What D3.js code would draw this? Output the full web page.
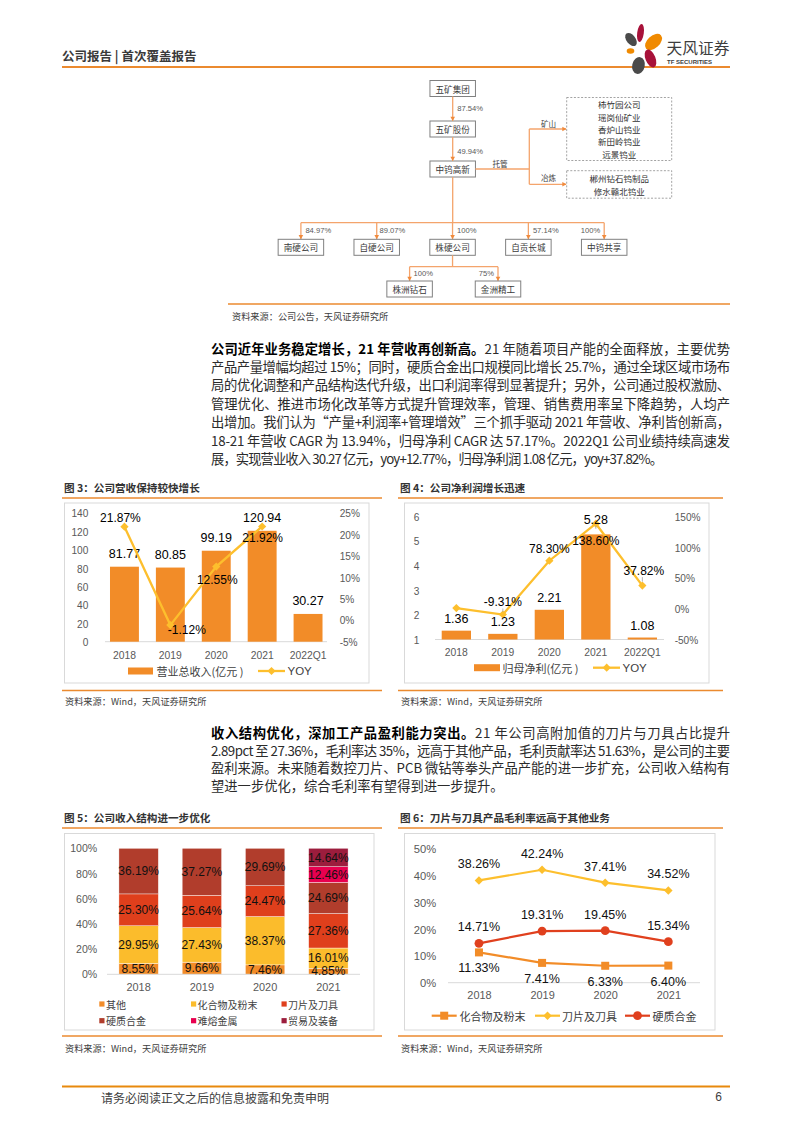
<!DOCTYPE html>
<html><head><meta charset="utf-8">
<script src="https://cdn.jsdelivr.net/npm/d3@7"></script>
<style>
body{margin:0;background:#fff;}
svg{display:block;}
</style></head><body>
<svg id="page" width="793" height="1122" viewBox="0 0 793 1122"></svg>
<script>
// ---------------- DATA ----------------
const revCategories = ["2018","2019","2020","2021","2022Q1"];
const revValues = [81.77, 80.85, 99.19, 120.94, 30.27];
const revYoy = [21.87, -1.12, 12.55, 21.92, null];
const revLeftTicks = [0,20,40,60,80,100,120,140];
const revRightTicks = [-5,0,5,10,15,20,25];

const profitCategories = ["2018","2019","2020","2021","2022Q1"];
const profitValues = [1.36, 1.23, 2.21, 5.28, 1.08];
const profitYoy = [1.2, -9.31, 78.30, 138.60, 37.82];
const profitYoyShown = [false, true, true, true, true];
const profitLeftTicks = [1,2,3,4,5,6];
const profitRightTicks = [-50,0,50,100,150];

const mixCategories = ["2018","2019","2020","2021"];
const mixOther = [8.55, 9.66, 7.46, 4.85];
const mixPowder = [29.95, 27.43, 38.37, 16.01];
const mixBlade = [25.30, 25.64, 24.47, 27.36];
const mixCarbide = [36.19, 37.27, 29.69, 24.69];
const mixRefractory = [0, 0, 0, 12.46];
const mixTrade = [0, 0, 0, 14.64];
const mixNames = ["其他","化合物及粉末","刀片及刀具","硬质合金","难熔金属","贸易及装备"];
const mixTicks = [0,20,40,60,80,100];

const marginCategories = ["2018","2019","2020","2021"];
const marginPowder = [11.33, 7.41, 6.33, 6.40];
const marginBlade = [38.26, 42.24, 37.41, 34.52];
const marginCarbide = [14.71, 19.31, 19.45, 15.34];
const marginNames = ["化合物及粉末","刀片及刀具","硬质合金"];
const marginTicks = [0,10,20,30,40,50];

const orgChain = ["五矿集团","五矿股份","中钨高新"];
const orgChainPct = ["87.54%","49.94%"];
const mineUnits = ["柿竹园公司","瑶岗仙矿业","香炉山钨业","新田岭钨业","远景钨业"];
const smeltUnits = ["郴州钻石钨制品","修水赣北钨业"];
const subs = ["南硬公司","自硬公司","株硬公司","自贡长城","中钨共享"];
const subsPct = ["84.97%","89.07%","100%","57.14%","100%"];
const subSubs = ["株洲钻石","金洲精工"];
const subSubsPct = ["100%","75%"];

// ---------------- STYLE ----------------
const CJK = '"Noto Sans CJK SC", "Liberation Sans", sans-serif';
const NUM = '"Liberation Sans", "Noto Sans CJK SC", sans-serif';
const OL = "#EB8A2F";
const BAR = "#F28C28";
const YEL = "#FDBF2D";
const RED = "#E0401E";
const AX = "#595959";
const mixColors = ["#F28C28","#FBBC2C","#DF3F1C","#B13D2C","#E8004F","#9C1D3D"];

const svg = d3.select("#page");
svg.append("rect").attr("width",793).attr("height",1122).attr("fill","#fff");

function txt(g, x, y, s, o={}) {
  const t = g.append("text").attr("x",x).attr("y",y)
    .attr("dominant-baseline","central")
    .attr("font-family", o.ff || CJK)
    .attr("font-size", o.fs || 10)
    .attr("fill", o.fill || "#333")
    .attr("text-anchor", o.anchor || "start")
    .text(s);
  if (o.bold) t.attr("font-weight","bold");
  if (o.tl) t.attr("textLength", o.tl).attr("lengthAdjust","spacingAndGlyphs");
  return t;
}
function hline(g, x1, x2, y, c, w) {
  g.append("line").attr("x1",x1).attr("x2",x2).attr("y1",y).attr("y2",y).attr("stroke",c).attr("stroke-width",w);
}

// ---------------- HEADER ----------------
txt(svg, 62, 55, "公司报告 | 首次覆盖报告", {fs:12.5, bold:true, fill:"#3a3a3a"});
hline(svg, 62, 730, 67, OL, 2.2);
const logo = svg.append("g");
const petals = [
  {cx:640.5, cy:33, rx:3.3, ry:9, rot:8, c:"#A8123A"},
  {cx:653.5, cy:42, rx:10, ry:6.2, rot:-42, c:"#F08A00"},
  {cx:631, cy:39.5, rx:4.5, ry:7.5, rot:-38, c:"#4A4A4A"},
  {cx:630.5, cy:51, rx:3.8, ry:2.8, rot:0, c:"#F08A00"},
  {cx:650.5, cy:58.5, rx:5, ry:9.5, rot:-22, c:"#A8123A"},
  {cx:638.5, cy:65.5, rx:6.3, ry:8.5, rot:12, c:"#4A4A4A"}
];
petals.forEach(p => logo.append("ellipse").attr("cx",0).attr("cy",0).attr("rx",p.rx).attr("ry",p.ry)
  .attr("fill",p.c).attr("transform",`translate(${p.cx},${p.cy}) rotate(${p.rot})`));
txt(logo, 666.5, 47, "天风证券", {fs:15.5, fill:"#3d3d3d", tl:63});
txt(logo, 667, 61.5, "TF SECURITIES", {fs:5.8, ff:NUM, bold:true, fill:"#3d3d3d", tl:45});

// ---------------- ORG CHART ----------------
const og = svg.append("g");
const LC = "#F4A46C";
const BW = 45.5, BH = 16, CX = 452.7;
function box(cx, y, label) {
  og.append("rect").attr("x",cx-BW/2).attr("y",y).attr("width",BW).attr("height",BH)
    .attr("fill","#fff").attr("stroke","#808080").attr("stroke-width",1);
  txt(og, cx, y+BH/2, label, {fs:8.6, fill:"#3a3a3a", anchor:"middle"});
}
function vline(x, y1, y2) { og.append("line").attr("x1",x).attr("x2",x).attr("y1",y1).attr("y2",y2).attr("stroke",LC).attr("stroke-width",1.3); }
function hl(x1, x2, y) { og.append("line").attr("x1",x1).attr("x2",x2).attr("y1",y).attr("y2",y).attr("stroke",LC).attr("stroke-width",1.3); }
function arrowDown(x, y) { og.append("path").attr("d",`M${x-2.3},${y-4.2}L${x+2.3},${y-4.2}L${x},${y}Z`).attr("fill","#F08A3C"); }
function arrowRight(x, y) { og.append("path").attr("d",`M${x-4.2},${y-2.3}L${x-4.2},${y+2.3}L${x},${y}Z`).attr("fill","#F08A3C"); }
function pct(x, y, s, anchor) { txt(og, x, y, s, {fs:7.6, ff:NUM, fill:"#595959", anchor:anchor||"start"}); }

const chainY = [80.5, 121, 161];
orgChain.forEach((n,i) => box(CX, chainY[i], n));
[0,1].forEach(i => {
  vline(CX, chainY[i]+BH, chainY[i+1]);
  arrowDown(CX, chainY[i+1]);
  pct(CX+4.5, (chainY[i]+BH+chainY[i+1])/2 + (i===0?0:2), orgChainPct[i]);
});
hl(CX+BW/2, 529.3, 169);
txt(og, 492.5, 163.3, "托管", {fs:7.6, fill:"#404040"});
vline(529.3, 129, 184.3);
hl(529.3, 566, 129); arrowRight(566.5, 129);
hl(529.3, 566, 184.3); arrowRight(566.5, 184.3);
txt(og, 541, 123, "矿山", {fs:7.6, fill:"#404040"});
txt(og, 541, 177.5, "冶炼", {fs:7.6, fill:"#404040"});
const DL = 12.4;
og.append("rect").attr("x",566.7).attr("y",97.5).attr("width",105).attr("height",63)
  .attr("fill","none").attr("stroke","#8c8c8c").attr("stroke-width",0.8).attr("stroke-dasharray","2,1.6");
mineUnits.forEach((n,i) => txt(og, 619.2, 104.2 + i*DL, n, {fs:8.5, fill:"#333", anchor:"middle"}));
og.append("rect").attr("x",566.7).attr("y",170.7).attr("width",105).attr("height",27.5)
  .attr("fill","none").attr("stroke","#8c8c8c").attr("stroke-width",0.8).attr("stroke-dasharray","2,1.6");
smeltUnits.forEach((n,i) => txt(og, 619.2, 178.3 + i*DL, n, {fs:8.5, fill:"#333", anchor:"middle"}));

const xs = d3.scalePoint().domain(subs).range([300.9, 604.2]);
vline(CX, chainY[2]+BH, 222.7);
hl(xs(subs[0]), xs(subs[subs.length-1]), 222.7);
subs.forEach((n,i) => {
  const x = xs(n);
  vline(x, 222.7, 239.3);
  arrowDown(x, 239.3);
  box(x, 239.3, n);
  if (i === subs.length-1) pct(x-4, 230.5, subsPct[i], "end");
  else pct(x + (i===1?2.8:4.5), 230.5, subsPct[i]);
});
const xss = d3.scalePoint().domain(subSubs).range([409.6, 498]);
vline(xs("株硬公司"), 239.3+BH, 266.7);
hl(xss(subSubs[0]), xss(subSubs[1]), 266.7);
subSubs.forEach((n,i) => {
  const x = xss(n);
  vline(x, 266.7, 281);
  arrowDown(x, 281);
  box(x, 281, n);
  if (i === 0) pct(x+4, 273.5, subSubsPct[i]);
  else pct(x-4, 273.5, subSubsPct[i], "end");
});
hline(svg, 228, 730, 304, OL, 1.3);
txt(svg, 232, 316, "资料来源：公司公告，天风证券研究所", {fs:9.2, fill:"#404040"});

// ---------------- PARAGRAPHS ----------------
const para1 = [
  [{b:1,t:"公司近年业务稳定增长，21 年营收再创新高。"},{t:"21 年随着项目产能的全面释放，主要优势"}],
  [{t:"产品产量增幅均超过 15%；同时，硬质合金出口规模同比增长 25.7%，通过全球区域市场布"}],
  [{t:"局的优化调整和产品结构迭代升级，出口利润率得到显著提升；另外，公司通过股权激励、"}],
  [{t:"管理优化、推进市场化改革等方式提升管理效率，管理、销售费用率呈下降趋势，人均产"}],
  [{t:"出增加。我们认为“产量+利润率+管理增效”三个抓手驱动 2021 年营收、净利皆创新高，"}],
  [{t:"18-21 年营收 CAGR 为 13.94%，归母净利 CAGR 达 57.17%。2022Q1 公司业绩持续高速发"}],
  [{t:"展，实现营业收入 30.27 亿元，yoy+12.77%，归母净利润 1.08 亿元，yoy+37.82%。"}]
];
const para2 = [
  [{b:1,t:"收入结构优化，深加工产品盈利能力突出。"},{t:"21 年公司高附加值的刀片与刀具占比提升"}],
  [{t:"2.89pct 至 27.36%，毛利率达 35%，远高于其他产品，毛利贡献率达 51.63%，是公司的主要"}],
  [{t:"盈利来源。未来随着数控刀片、PCB 微钻等拳头产品产能的进一步扩充，公司收入结构有"}],
  [{t:"望进一步优化，综合毛利率有望得到进一步提升。"}]
];
function paragraph(lines, x, y0, lh, width, lastWidth) {
  lines.forEach((parts, i) => {
    const t = svg.append("text").attr("x",x).attr("y",y0+i*lh)
      .attr("dominant-baseline","central").attr("font-family",CJK).attr("font-size",13.3);
    parts.forEach(p => t.append("tspan").attr("font-weight",p.b?"bold":"normal")
      .attr("fill",p.b?"#000":"#2b2b2b").text(p.t));
    if (i < lines.length-1) t.attr("textLength",width).attr("lengthAdjust","spacing");
    else if (lastWidth) t.attr("textLength",lastWidth).attr("lengthAdjust","spacing");
  });
}
paragraph(para1, 211, 347.5, 18.4, 519, 452);
paragraph(para2, 211, 732, 17.6, 519, null);

// ---------------- CHART FRAMES ----------------
function frame(o) {
  txt(svg, o.x0+2, o.titleY, o.title, {fs:10.6, bold:true, fill:"#333"});
  hline(svg, o.x0, o.x1, o.titleY+10.5, OL, 1.3);
  svg.append("rect").attr("x",o.bx0).attr("y",o.by0).attr("width",o.bx1-o.bx0).attr("height",o.by1-o.by0)
    .attr("fill","#fff").attr("stroke","#D9D9D9").attr("stroke-width",1);
  hline(svg, o.x0, o.x1, o.botY, OL, 1.3);
  txt(svg, o.x0+3, o.srcY, "资料来源：Wind，天风证券研究所", {fs:9.2, fill:"#404040"});
}
frame({x0:62, x1:382, titleY:487.5, title:"图 3：公司营收保持较快增长", bx0:64.5, bx1:369, by0:503, by1:683, botY:690.5, srcY:700.5});
frame({x0:398, x1:723, titleY:487.5, title:"图 4：公司净利润增长迅速", bx0:404.5, bx1:709, by0:503, by1:683, botY:690.5, srcY:700.5});
frame({x0:62, x1:382, titleY:817.5, title:"图 5：公司收入结构进一步优化", bx0:64.5, bx1:374, by0:833.5, by1:1030, botY:1036, srcY:1048});
frame({x0:398, x1:723, titleY:817.5, title:"图 6：刀片与刀具产品毛利率远高于其他业务", bx0:404.5, bx1:715, by0:833.5, by1:1030, botY:1036, srcY:1048});

function styleAxis(g, fs, sx) {
  g.select(".domain").remove();
  g.attr("font-family", NUM);
  g.selectAll("text").attr("font-size", fs).attr("fill", AX).attr("transform", `scale(${sx||0.88},1)`);
}
function diamond(g, x, y, s, c) {
  g.append("rect").attr("x",-s/2).attr("y",-s/2).attr("width",s).attr("height",s).attr("fill",c)
    .attr("transform",`translate(${x},${y}) rotate(45)`);
}

// ---------------- CHART 3 ----------------
{
  const g = svg.append("g");
  const x = d3.scaleBand().domain(revCategories).range([101.5,331]).paddingInner(0.37).paddingOuter(0.185);
  const y = d3.scaleLinear().domain([0,140]).range([641.7,513.3]);
  const yr = d3.scaleLinear().domain([-5,25]).range([641.7,513.3]);
  g.append("g").attr("transform","translate(91,0)").call(d3.axisLeft(y).tickValues(revLeftTicks).tickSize(0).tickPadding(3).tickFormat(d3.format("d")))
    .call(a => styleAxis(a, 11.5));
  g.append("g").attr("transform","translate(337,0)").call(d3.axisRight(yr).tickValues(revRightTicks).tickSize(0).tickPadding(3).tickFormat(d => d + "%"))
    .call(a => styleAxis(a, 11.5));
  hline(g, 105, 327, y(0), "#D9D9D9", 1);
  g.append("g").attr("transform",`translate(0,${y(0)})`).call(d3.axisBottom(x).tickSize(0).tickPadding(9))
    .call(a => styleAxis(a, 11.5, 0.9));
  g.selectAll("rect.bar").data(revValues).join("rect").attr("class","bar")
    .attr("x",(d,i)=>x(revCategories[i])).attr("width",x.bandwidth())
    .attr("y",d=>y(d)).attr("height",d=>y(0)-y(d)).attr("fill",BAR);
  revValues.forEach((v,i) => txt(g, x(revCategories[i])+x.bandwidth()/2, y(v)-12.5, v.toFixed(2), {fs:12.5, ff:NUM, fill:"#000", anchor:"middle"}));
  const pts = revYoy.map((v,i)=>({v, c:revCategories[i]})).filter(d=>d.v!==null);
  const cx = c => x(c)+x.bandwidth()/2;
  g.append("path").datum(pts).attr("fill","none").attr("stroke",YEL).attr("stroke-width",2.3)
    .attr("d", d3.line().x(d=>cx(d.c)).y(d=>yr(d.v)));
  pts.forEach(d => diamond(g, cx(d.c), yr(d.v), 5.8, YEL));
  const yoyOff = [[-4,-8.5],[16.5,4.5],[1,13.5],[0.5,12]];
  pts.forEach((d,i) => txt(g, cx(d.c)+yoyOff[i][0], yr(d.v)+yoyOff[i][1], d.v.toFixed(2)+"%", {fs:12, ff:NUM, fill:"#000", anchor:"middle"}));
  g.append("rect").attr("x",128).attr("y",667.5).attr("width",25).attr("height",7).attr("fill",BAR);
  txt(g, 156.5, 671, "营业总收入(亿元 )", {fs:11, fill:"#404040"});
  hline(g, 258, 285, 671, YEL, 2.3);
  diamond(g, 271.5, 671, 5.8, YEL);
  txt(g, 287.5, 671, "YOY", {fs:11.5, ff:NUM, fill:"#404040"});
}

// ---------------- CHART 4 ----------------
{
  const g = svg.append("g");
  const x = d3.scaleBand().domain(profitCategories).range([433.1,665.6]).paddingInner(0.37).paddingOuter(0.185);
  const y = d3.scaleLinear().domain([1,6]).range([639.5,516.7]);
  const yr = d3.scaleLinear().domain([-50,150]).range([639.5,516.7]);
  g.append("g").attr("transform","translate(422,0)").call(d3.axisLeft(y).tickValues(profitLeftTicks).tickSize(0).tickPadding(3).tickFormat(d3.format("d")))
    .call(a => styleAxis(a, 11.5));
  g.append("g").attr("transform","translate(672,0)").call(d3.axisRight(yr).tickValues(profitRightTicks).tickSize(0).tickPadding(3).tickFormat(d => d + "%"))
    .call(a => styleAxis(a, 11.5));
  hline(g, 435, 664, y(1), "#D9D9D9", 1);
  g.append("g").attr("transform",`translate(0,${y(1)})`).call(d3.axisBottom(x).tickSize(0).tickPadding(8.3))
    .call(a => styleAxis(a, 11.5, 0.9));
  g.selectAll("rect.bar").data(profitValues).join("rect").attr("class","bar")
    .attr("x",(d,i)=>x(profitCategories[i])).attr("width",x.bandwidth())
    .attr("y",d=>y(d)).attr("height",d=>y(1)-y(d)).attr("fill",BAR);
  const barOff = [-12,-12,-11.5,-14,-11.5];
  const cx = c => x(c)+x.bandwidth()/2;
  g.append("path").datum(profitYoy).attr("fill","none").attr("stroke",YEL).attr("stroke-width",2.3)
    .attr("d", d3.line().x((d,i)=>cx(profitCategories[i])).y(d=>yr(d)));
  profitYoy.forEach((v,i) => diamond(g, cx(profitCategories[i]), yr(v), 5.8, YEL));
  profitValues.forEach((v,i) => txt(g, cx(profitCategories[i]), y(v)+barOff[i], v.toFixed(2), {fs:12.5, ff:NUM, fill:"#000", anchor:"middle"}));
  const yoyOff = [0,-12.5,-12,17.5,-15];
  profitYoy.forEach((v,i) => { if (profitYoyShown[i]) txt(g, cx(profitCategories[i])+(i===4?1.5:0), yr(v)+yoyOff[i], v.toFixed(2)+"%", {fs:12, ff:NUM, fill:"#000", anchor:"middle"}); });
  [[1, -6, -2.5],[4, -8.5, -4]].forEach(([i,a,b]) => g.append("line")
    .attr("x1",cx(profitCategories[i])).attr("x2",cx(profitCategories[i])).attr("y1",yr(profitYoy[i])+a).attr("y2",yr(profitYoy[i])+b)
    .attr("stroke","#A6A6A6").attr("stroke-width",0.8));
  g.append("line").attr("x1",cx("2021")).attr("x2",cx("2021")).attr("y1",y(5.28)-9).attr("y2",y(5.28)-5.5).attr("stroke","#A6A6A6").attr("stroke-width",0.8);
  g.append("rect").attr("x",474).attr("y",664.2).attr("width",26).attr("height",7).attr("fill",BAR);
  txt(g, 502.5, 667.7, "归母净利(亿元 )", {fs:11, fill:"#404040"});
  hline(g, 593, 620, 667.7, YEL, 2.3);
  diamond(g, 606.7, 667.7, 5.8, YEL);
  txt(g, 622.5, 667.7, "YOY", {fs:11.5, ff:NUM, fill:"#404040"});
}

// ---------------- CHART 5 ----------------
{
  const g = svg.append("g");
  const x = d3.scaleBand().domain(mixCategories).range([107,360]).paddingInner(0.377).paddingOuter(0.1885);
  const y = d3.scaleLinear().domain([0,100]).range([974.3,848.3]);
  g.append("g").attr("transform","translate(100,0)").call(d3.axisLeft(y).tickValues(mixTicks).tickSize(0).tickPadding(3).tickFormat(d=>d+"%"))
    .call(a => styleAxis(a, 11.5, 0.92));
  g.append("g").attr("transform",`translate(0,${y(0)})`).call(d3.axisBottom(x).tickSize(0).tickPadding(8.4))
    .call(a => styleAxis(a, 11.5, 0.95));
  const series = [mixOther, mixPowder, mixBlade, mixCarbide, mixRefractory, mixTrade];
  const table = mixCategories.map((c,i) => { const r = {cat:c}; mixNames.forEach((n,k)=> r[n] = series[k][i]); return r; });
  const stack = d3.stack().keys(mixNames)(table);
  stack.forEach((layer,k) => {
    layer.forEach(seg => {
      const v = seg[1]-seg[0];
      if (v <= 0) return;
      g.append("rect").attr("x",x(seg.data.cat)).attr("width",x.bandwidth())
        .attr("y",y(seg[1])).attr("height",y(seg[0])-y(seg[1])).attr("fill",mixColors[k])
        .attr("stroke","#fff").attr("stroke-width",0.4);
    });
  });
  hline(g, 107, 360, y(0), "#D9D9D9", 1);
  stack.forEach((layer,k) => layer.forEach(seg => {
    const v = seg.data[mixNames[k]];
    if (v <= 0) return;
    txt(g, x(seg.data.cat)+x.bandwidth()/2, y((seg[0]+seg[1])/2), v.toFixed(2)+"%", {fs:12, ff:NUM, fill:"#111", anchor:"middle"});
  }));
  const lx = [99.3, 191, 281.5], ly = [1004, 1020.7];
  mixNames.forEach((n,k) => {
    const cx0 = lx[k%3], cy0 = ly[Math.floor(k/3)];
    g.append("rect").attr("x",cx0).attr("y",cy0-2.6).attr("width",5.2).attr("height",5.2).attr("fill",mixColors[k]);
    txt(g, cx0+6.6, cy0, n, {fs:10, fill:"#404040"});
  });
}

// ---------------- CHART 6 ----------------
{
  const g = svg.append("g");
  const x = d3.scalePoint().domain(marginCategories).range([447.4,699.9]).padding(0.5);
  const y = d3.scaleLinear().domain([0,50]).range([982.7,849]);
  g.append("g").attr("transform","translate(439,0)").call(d3.axisLeft(y).tickValues(marginTicks).tickSize(0).tickPadding(3).tickFormat(d=>d+"%"))
    .call(a => styleAxis(a, 11.8, 0.95));
  hline(g, 448, 700, y(0), "#D9D9D9", 1);
  g.append("g").attr("transform",`translate(0,${y(0)})`).call(d3.axisBottom(x).tickSize(0).tickPadding(8.3))
    .call(a => styleAxis(a, 11.5, 0.95));
  const sets = [
    {vals: marginPowder, c: BAR, m: "square", off: 16},
    {vals: marginBlade, c: YEL, m: "diamond", off: -16},
    {vals: marginCarbide, c: RED, m: "circle", off: -16}
  ];
  function marker(gg, m, cx0, cy0, c) {
    if (m === "square") gg.append("rect").attr("x",cx0-4).attr("y",cy0-4).attr("width",8).attr("height",8).attr("fill",c);
    else if (m === "diamond") diamond(gg, cx0, cy0, 6, c);
    else gg.append("circle").attr("cx",cx0).attr("cy",cy0).attr("r",4.4).attr("fill",c);
  }
  const line = d3.line().x((d,i)=>x(marginCategories[i])).y(d=>y(d));
  sets.forEach(s => {
    g.append("path").datum(s.vals).attr("fill","none").attr("stroke",s.c).attr("stroke-width",2.2).attr("d",line);
    s.vals.forEach((v,i) => marker(g, s.m, x(marginCategories[i]), y(v), s.c));
  });
  sets.forEach(s => s.vals.forEach((v,i) => txt(g, x(marginCategories[i]), y(v)+s.off, v.toFixed(2)+"%", {fs:12.5, ff:NUM, fill:"#111", anchor:"middle"})));
  const lg = [{x:431.7, tx:459.5}, {x:535, tx:562}, {x:625, tx:652.5}];
  sets.forEach((s,k) => {
    hline(g, lg[k].x, lg[k].x+25, 1015.7, s.c, 2.2);
    marker(g, s.m, lg[k].x+12.5, 1015.7, s.c);
    txt(g, lg[k].tx, 1015.7, marginNames[k], {fs:11, fill:"#404040"});
  });
}

// ---------------- FOOTER ----------------
hline(svg, 62, 730, 1086.5, "#E8890C", 2.2);
txt(svg, 101, 1097, "请务必阅读正文之后的信息披露和免责申明", {fs:12, fill:"#404040"});
txt(svg, 722, 1097, "6", {fs:12, ff:NUM, fill:"#404040", anchor:"end"});
</script>
</body></html>
